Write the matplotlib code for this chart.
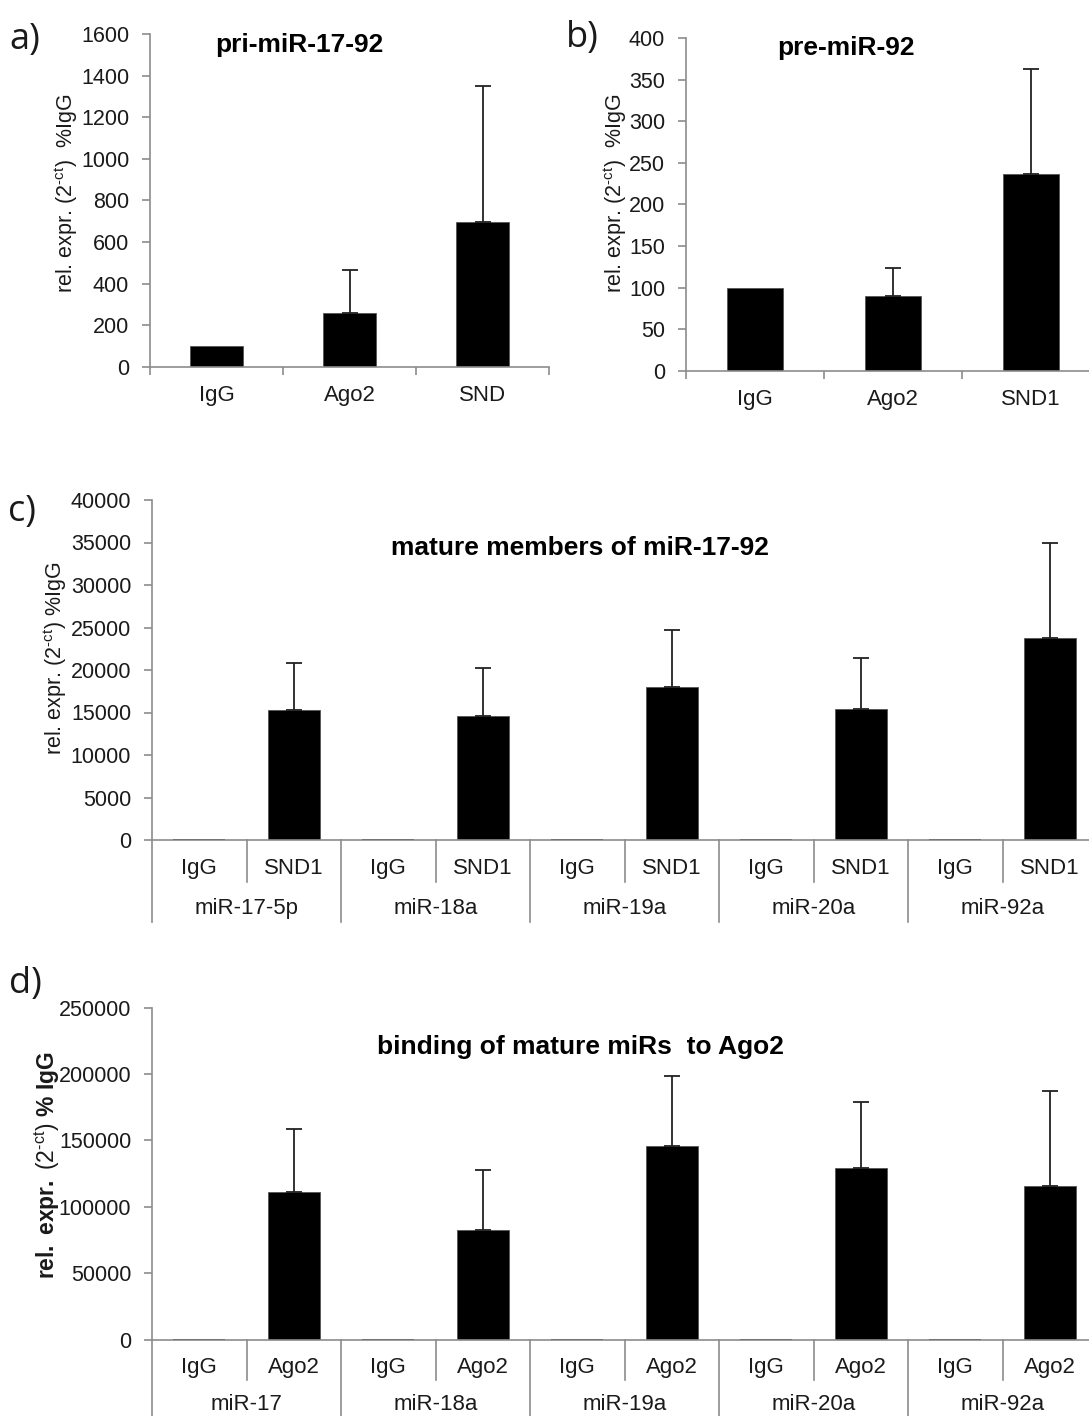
import numpy as np
import matplotlib
matplotlib.use("Agg")
import matplotlib.pyplot as plt
import matplotlib.transforms as mtransforms

# ---------------- data ----------------
pri_labels = ["IgG", "Ago2", "SND"]
pri_values = [100, 258, 698]
pri_err = [0, 207, 654]

pre_labels = ["IgG", "Ago2", "SND1"]
pre_values = [100, 90, 237]
pre_err = [0, 33, 126]

mature_groups = ["miR-17-5p", "miR-18a", "miR-19a", "miR-20a", "miR-92a"]
mature_sub = ["IgG", "SND1"]
mature_igg = [100, 100, 100, 100, 100]
mature_snd1 = [15330, 14550, 18000, 15450, 23730]
mature_snd1_err = [5460, 5720, 6700, 5950, 11250]

ago2_groups = ["miR-17", "miR-18a", "miR-19a", "miR-20a", "miR-92a"]
ago2_sub = ["IgG", "Ago2"]
ago2_igg = [100, 100, 100, 100, 100]
ago2_vals = [110900, 82350, 145650, 129400, 115600]
ago2_err = [47500, 45250, 52750, 49500, 71300]

# ---------------- style ----------------
plt.rcParams["font.family"] = ["Liberation Sans", "DejaVu Sans"]
plt.rcParams["mathtext.fontset"] = "custom"
plt.rcParams["mathtext.rm"] = "Liberation Sans"
plt.rcParams["mathtext.it"] = "Liberation Sans:italic"
plt.rcParams["mathtext.bf"] = "Liberation Sans:bold"

W, H = 1089, 1416
fig = plt.figure(figsize=(W / 100, H / 100), dpi=100)

GRAY = "#8c8c8c"
TXT = "#1a1a1a"
FS = 15.5
FSX = 16
FST = 19


def px_axes(l, t, r, b):
    return fig.add_axes([l / W, 1 - b / H, (r - l) / W, (b - t) / H])


def style_axes(ax, ymax, ystep):
    for s in ["top", "right"]:
        ax.spines[s].set_visible(False)
    for s in ["left", "bottom"]:
        ax.spines[s].set_color(GRAY)
        ax.spines[s].set_linewidth(1.2)
    ax.set_ylim(0, ymax)
    ax.set_yticks(np.arange(0, ymax + 1, ystep))
    ax.tick_params(axis="y", direction="out", length=6, width=1.2, color=GRAY,
                   labelsize=FS, labelcolor=TXT, pad=9)


def draw_err(ax, x, vals, errs):
    x = np.asarray(x, float)
    vals = np.asarray(vals, float)
    errs = np.asarray(errs, float)
    m = errs > 0
    ax.errorbar(x[m], vals[m], yerr=[np.zeros(m.sum()), errs[m]], fmt="none",
                ecolor="#222222", elinewidth=1.3, capsize=6, capthick=1.3)


def simple_panel(ax, labels, vals, errs, ymax, ystep):
    style_axes(ax, ymax, ystep)
    x = np.arange(len(labels))
    ax.bar(x, vals, width=0.4, color="black", edgecolor="#555555", linewidth=0.6)
    draw_err(ax, x, vals, errs)
    ax.set_xlim(-0.5, len(labels) - 0.5)
    ax.set_xticks(np.arange(-0.5, len(labels), 1.0))
    ax.set_xticklabels([])
    ax.set_xticks(x, minor=True)
    ax.set_xticklabels(labels, minor=True)
    ax.tick_params(axis="x", which="major", direction="out", length=6, width=1.2, color=GRAY)
    ax.tick_params(axis="x", which="minor", length=0, labelsize=FSX, labelcolor=TXT, pad=13.5)


def grouped_panel(ax, groups, sub, igg, vals, errs, ymax, ystep, inner_len, outer_len,
                  inner_y, outer_y):
    style_axes(ax, ymax, ystep)
    n = len(groups)
    x_igg = np.arange(n) * 2
    x_val = x_igg + 1
    ax.bar(x_igg, igg, width=0.55, color="black", linewidth=0)
    ax.bar(x_val, vals, width=0.55, color="black", edgecolor="#555555", linewidth=0.6)
    draw_err(ax, x_val, vals, errs)
    ax.set_xlim(-0.5, 2 * n - 0.5)
    ax.set_xticks([])
    tr = mtransforms.blended_transform_factory(ax.transData, ax.transAxes)
    for i in range(n):
        xi = x_igg[i]
        ax.plot([xi + 0.5, xi + 0.5], [0, inner_len], transform=tr, color=GRAY,
                lw=1.2, clip_on=False)
        ax.plot([xi - 0.5, xi - 0.5], [0, outer_len], transform=tr, color=GRAY,
                lw=1.2, clip_on=False)
        ax.text(xi, inner_y, sub[0], transform=tr, ha="center", va="baseline",
                fontsize=FSX, color=TXT)
        ax.text(xi + 1, inner_y, sub[1], transform=tr, ha="center", va="baseline",
                fontsize=FSX, color=TXT)
        ax.text(xi + 0.5, outer_y, groups[i], transform=tr, ha="center", va="baseline",
                fontsize=FSX, color=TXT)
    ax.plot([2 * n - 0.5] * 2, [0, outer_len], transform=tr, color=GRAY, lw=1.2,
            clip_on=False)


def ftext(x, y, s, **kw):
    fig.text(x / W, 1 - y / H, s, **kw)


# panel a
ax_a = px_axes(150, 34, 549, 366.7)
simple_panel(ax_a, pri_labels, pri_values, pri_err, 1600, 200)
ftext(299, 45, "pri-miR-17-92", ha="center", va="center", fontsize=FST, fontweight="bold")

# panel b
ax_b = px_axes(686, 38.3, 1100, 370.7)
simple_panel(ax_b, pre_labels, pre_values, pre_err, 400, 50)
ftext(846, 48, "pre-miR-92", ha="center", va="center", fontsize=FST, fontweight="bold")

# panel c
ax_c = px_axes(152, 500, 1097, 840)
grouped_panel(ax_c, mature_groups, mature_sub, mature_igg, mature_snd1, mature_snd1_err,
              40000, 5000, -42 / 340, -82 / 340, -34 / 340, -74 / 340)
ftext(580, 548, "mature members of miR-17-92", ha="center", va="center", fontsize=FST,
      fontweight="bold")

# panel d
ax_d = px_axes(152, 1007.5, 1097, 1339.5)
grouped_panel(ax_d, ago2_groups, ago2_sub, ago2_igg, ago2_vals, ago2_err,
              250000, 50000, -40 / 332, -90 / 332, -34 / 332, -71 / 332)
ftext(580, 1047, "binding of mature miRs  to Ago2", ha="center", va="center", fontsize=FST,
      fontweight="bold")

# y labels
sup = r"(2$^{\text{-ct}}$)"
ftext(66, 193, "rel. expr. " + sup + "  %IgG", rotation=90, ha="center", va="center",
      fontsize=FS, color=TXT)
ftext(615, 193, "rel. expr. " + sup + "  %IgG", rotation=90, ha="center", va="center",
      fontsize=FS, color=TXT)
ftext(55, 658, "rel. expr. " + sup + " %IgG", rotation=90, ha="center",
      va="center", fontsize=FS, color=TXT)
ftext(47, 1165, r"$\mathbf{rel.\ expr.}$ " + sup + r" $\mathbf{\%\ IgG}$",
      rotation=90, ha="center", va="center", fontsize=16.5, color=TXT)

# panel letters
for lab, x, y in [("a)", 25, 40), ("b)", 582, 38), ("c)", 22, 512), ("d)", 25, 984)]:
    ftext(x, y, lab, ha="center", va="center", fontsize=26,
          family=["Open Sans", "DejaVu Sans"], color=TXT)

fig.savefig("out.png", dpi=100)
